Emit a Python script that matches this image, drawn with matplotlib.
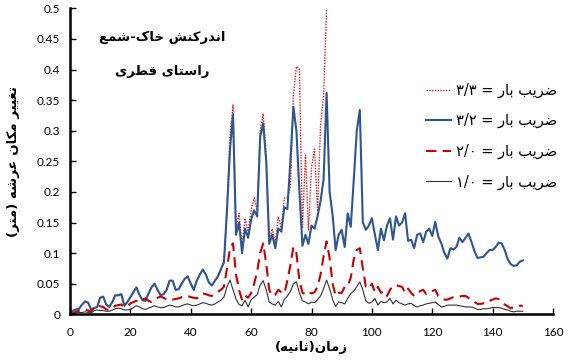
import re
import matplotlib
matplotlib.use("Agg")
import matplotlib.pyplot as plt

# time axis (s)
t = list(range(151))

# deck displacement for load factor 3.2
s32 = [0.0, 0.006, 0.008, 0.009, 0.016, 0.021, 0.019, 0.008, 0.01, 0.012,
       0.027, 0.029, 0.016, 0.012, 0.02, 0.031, 0.031, 0.033, 0.014, 0.02,
       0.028, 0.036, 0.044, 0.032, 0.023, 0.022, 0.034, 0.044, 0.05, 0.04,
       0.031, 0.033, 0.04, 0.055, 0.055, 0.04, 0.041, 0.05, 0.058, 0.062,
       0.05, 0.04, 0.055, 0.065, 0.073, 0.065, 0.052, 0.047, 0.055, 0.062,
       0.074, 0.085, 0.17, 0.27, 0.326, 0.13, 0.15, 0.1, 0.14, 0.125,
       0.155, 0.17, 0.16, 0.29, 0.312, 0.25, 0.115, 0.13, 0.108, 0.14,
       0.135, 0.175, 0.172, 0.25, 0.339, 0.3, 0.2, 0.112, 0.13, 0.115,
       0.145, 0.14, 0.16, 0.185, 0.22, 0.362, 0.2, 0.162, 0.105, 0.13,
       0.138, 0.11, 0.165, 0.143, 0.22, 0.3, 0.334, 0.15, 0.138, 0.145,
       0.157, 0.13, 0.105, 0.14, 0.121, 0.145, 0.157, 0.122, 0.16, 0.145,
       0.15, 0.165, 0.12, 0.122, 0.108, 0.13, 0.132, 0.118, 0.135, 0.14,
       0.128, 0.151, 0.127, 0.116, 0.1, 0.091, 0.108, 0.106, 0.11, 0.125,
       0.118, 0.125, 0.132, 0.118, 0.103, 0.092, 0.093, 0.094, 0.1, 0.105,
       0.105, 0.11, 0.117, 0.116, 0.105, 0.09, 0.082, 0.079, 0.08, 0.086,
       0.088]

# load factor 3.3 follows 3.2 up to 51 s, then diverges (52..85 s)
s33_tail = [0.17, 0.29, 0.342, 0.14, 0.165, 0.11, 0.157, 0.135, 0.17, 0.19,
            0.17, 0.3, 0.328, 0.26, 0.12, 0.14, 0.115, 0.16, 0.14, 0.19,
            0.19, 0.21, 0.358, 0.405, 0.4, 0.14, 0.26, 0.138, 0.24, 0.27,
            0.17, 0.31, 0.356, 0.5]
s33 = s32[:52] + s33_tail

s20 = [0.0, 0.002, 0.004, 0.006, 0.007, 0.008, 0.006, 0.004, 0.012, 0.014,
       0.013, 0.012, 0.008, 0.007, 0.01, 0.014, 0.015, 0.016, 0.012, 0.013,
       0.018, 0.02, 0.022, 0.02, 0.024, 0.026, 0.022, 0.02, 0.024, 0.027,
       0.029, 0.027, 0.024, 0.023, 0.024, 0.025, 0.026, 0.028, 0.029, 0.03,
       0.028, 0.027, 0.026, 0.03, 0.034, 0.033, 0.031, 0.03, 0.034, 0.037,
       0.04, 0.045, 0.075, 0.108, 0.116, 0.065, 0.04, 0.023, 0.031, 0.027,
       0.035, 0.05, 0.07, 0.1, 0.116, 0.083, 0.04, 0.03, 0.032, 0.04,
       0.036, 0.034, 0.055, 0.08, 0.11, 0.1, 0.055, 0.035, 0.033, 0.037,
       0.034, 0.036, 0.045, 0.065, 0.095, 0.119, 0.092, 0.05, 0.03, 0.035,
       0.035, 0.045, 0.046, 0.06, 0.09, 0.105, 0.108, 0.075, 0.045, 0.042,
       0.05, 0.036, 0.045, 0.035, 0.038, 0.03, 0.04, 0.046, 0.048, 0.046,
       0.045, 0.035, 0.042, 0.035, 0.03, 0.035, 0.038, 0.04, 0.033, 0.035,
       0.038, 0.04, 0.03, 0.027, 0.024, 0.024, 0.026, 0.028, 0.029, 0.029,
       0.03, 0.03, 0.027, 0.023, 0.02, 0.017, 0.017, 0.018, 0.018, 0.022,
       0.024, 0.026, 0.025, 0.021, 0.016, 0.013, 0.01, 0.011, 0.013, 0.014,
       0.014]

s10 = [0.0, 0.001, 0.002, 0.003, 0.003, 0.004, 0.003, 0.002, 0.006, 0.007,
       0.006, 0.006, 0.005, 0.005, 0.007, 0.009, 0.01, 0.009, 0.007, 0.007,
       0.008, 0.011, 0.014, 0.012, 0.009, 0.008, 0.01, 0.012, 0.014, 0.012,
       0.011, 0.011, 0.013, 0.015, 0.014, 0.012, 0.012, 0.014, 0.016, 0.017,
       0.015, 0.014, 0.015, 0.017, 0.019, 0.018, 0.016, 0.015, 0.017, 0.02,
       0.023, 0.028, 0.045, 0.056, 0.04, 0.025, 0.016, 0.014, 0.023, 0.012,
       0.024, 0.028, 0.032, 0.048, 0.055, 0.04, 0.02, 0.017, 0.015, 0.021,
       0.012, 0.024, 0.03, 0.037, 0.05, 0.053, 0.035, 0.022, 0.02, 0.017,
       0.02, 0.019, 0.024, 0.03, 0.042, 0.056, 0.042, 0.024, 0.013, 0.02,
       0.019, 0.017, 0.026, 0.034, 0.038, 0.045, 0.053, 0.04, 0.022, 0.018,
       0.02, 0.026, 0.015, 0.021, 0.019, 0.02, 0.026, 0.017, 0.023, 0.019,
       0.017, 0.015, 0.017, 0.018, 0.014, 0.012, 0.014, 0.015, 0.017, 0.018,
       0.019, 0.02, 0.016, 0.012, 0.013, 0.015, 0.015, 0.015, 0.015, 0.014,
       0.013, 0.012, 0.012, 0.012, 0.01, 0.008, 0.008, 0.009, 0.009, 0.01,
       0.011, 0.011, 0.011, 0.01, 0.008, 0.007, 0.005, 0.004, 0.005, 0.005,
       0.005]

labels = ["ضریب بار = ۳/۳", "ضریب بار = ۳/۲", "ضریب بار = ۲/۰", "ضریب بار = ۱/۰"]
title_lines = ["اندرکنش خاک-شمع", "راستای قطری"]
xlabel = "زمان(ثانیه)"
ylabel = "تغییر مکان عرشه (متر)"
xticks = [0, 20, 40, 60, 80, 100, 120, 140, 160]
yticks = [0, 0.05, 0.1, 0.15, 0.2, 0.25, 0.3, 0.35, 0.4, 0.45, 0.5]

# isolated, final, initial, medial presentation forms
FORMS = {
    "ا": ("\uFE8D", "\uFE8E", None, None),
    "ب": ("\uFE8F", "\uFE90", "\uFE91", "\uFE92"),
    "ت": ("\uFE95", "\uFE96", "\uFE97", "\uFE98"),
    "ث": ("\uFE99", "\uFE9A", "\uFE9B", "\uFE9C"),
    "خ": ("\uFEA5", "\uFEA6", "\uFEA7", "\uFEA8"),
    "د": ("\uFEA9", "\uFEAA", None, None),
    "ر": ("\uFEAD", "\uFEAE", None, None),
    "ز": ("\uFEAF", "\uFEB0", None, None),
    "س": ("\uFEB1", "\uFEB2", "\uFEB3", "\uFEB4"),
    "ش": ("\uFEB5", "\uFEB6", "\uFEB7", "\uFEB8"),
    "ض": ("\uFEBD", "\uFEBE", "\uFEBF", "\uFEC0"),
    "ط": ("\uFEC1", "\uFEC2", "\uFEC3", "\uFEC4"),
    "ع": ("\uFEC9", "\uFECA", "\uFECB", "\uFECC"),
    "غ": ("\uFECD", "\uFECE", "\uFECF", "\uFED0"),
    "ق": ("\uFED5", "\uFED6", "\uFED7", "\uFED8"),
    "م": ("\uFEE1", "\uFEE2", "\uFEE3", "\uFEE4"),
    "ن": ("\uFEE5", "\uFEE6", "\uFEE7", "\uFEE8"),
    "ه": ("\uFEE9", "\uFEEA", "\uFEEB", "\uFEEC"),
    "ک": ("\uFB8E", "\uFB8F", "\uFB90", "\uFB91"),
    "ی": ("\uFBFC", "\uFBFD", "\uFBFE", "\uFBFF"),
}
MIRROR = {"(": ")", ")": "("}


def rtl(text):
    # join letters, then lay the line out right to left
    out = []
    for i, c in enumerate(text):
        if c not in FORMS:
            out.append(c)
            continue
        prev = text[i - 1] if i > 0 else ""
        nxt = text[i + 1] if i + 1 < len(text) else ""
        iso, fin, ini, med = FORMS[c]
        jp = prev in FORMS and FORMS[prev][2] is not None
        jn = nxt in FORMS and ini is not None
        if jp and jn:
            out.append(med)
        elif jp:
            out.append(fin)
        elif jn:
            out.append(ini)
        else:
            out.append(iso)
    vis = "".join(MIRROR.get(c, c) for c in reversed(out))
    return re.sub(r"[۰-۹0-9][۰-۹0-9/]*", lambda m: m.group(0)[::-1], vis)


plt.rcParams["font.family"] = ["Lato", "DejaVu Sans"]

fig = plt.figure(figsize=(5.71, 3.62), dpi=100)
ax = fig.add_axes([70 / 571, 1 - 314.3 / 362, 483 / 571, 306 / 362])

ax.plot(t[:len(s33)], s33, color="#d02020", lw=1.0, ls=(0, (1, 1)), label=rtl(labels[0]))
ax.plot(t, s32, color="#2e5590", lw=1.5, label=rtl(labels[1]))
ax.plot(t, s20, color="#c00000", lw=1.5, ls=(0, (5, 3)), label=rtl(labels[2]))
ax.plot(t, s10, color="#333333", lw=0.8, label=rtl(labels[3]))

ax.set_xlim(0, 160)
ax.set_ylim(0, 0.5)
ax.set_xticks(xticks)
ax.set_yticks(yticks)
ax.set_yticklabels([f"{v:g}" for v in yticks])
ax.tick_params(direction="in", length=4, width=1, labelsize=8.5, colors="black")
ax.tick_params(axis="x", pad=9)
ax.tick_params(axis="y", pad=7)
for side in ("top", "right"):
    ax.spines[side].set_visible(False)
for side in ("left", "bottom"):
    ax.spines[side].set_linewidth(1.8)

ax.set_xlabel(rtl(xlabel), family="DejaVu Sans", fontweight="bold", fontsize=9.5, labelpad=2)
ax.set_ylabel(rtl(ylabel), family="DejaVu Sans", fontweight="bold", fontsize=9.5, labelpad=12)

ax.text(30.5, 0.453, rtl(title_lines[0]), family="DejaVu Sans", fontweight="bold",
        fontsize=9.5, ha="center", va="center")
ax.text(30.5, 0.397, rtl(title_lines[1]), family="DejaVu Sans", fontweight="bold",
        fontsize=9.5, ha="center", va="center")

leg = ax.legend(loc="upper right", bbox_to_anchor=(1.035, 0.8), frameon=False,
                prop={"family": "DejaVu Sans", "size": 10.5},
                handlelength=1.7, handletextpad=0.3, labelspacing=1.05)

fig.savefig("out.png", dpi=100)
